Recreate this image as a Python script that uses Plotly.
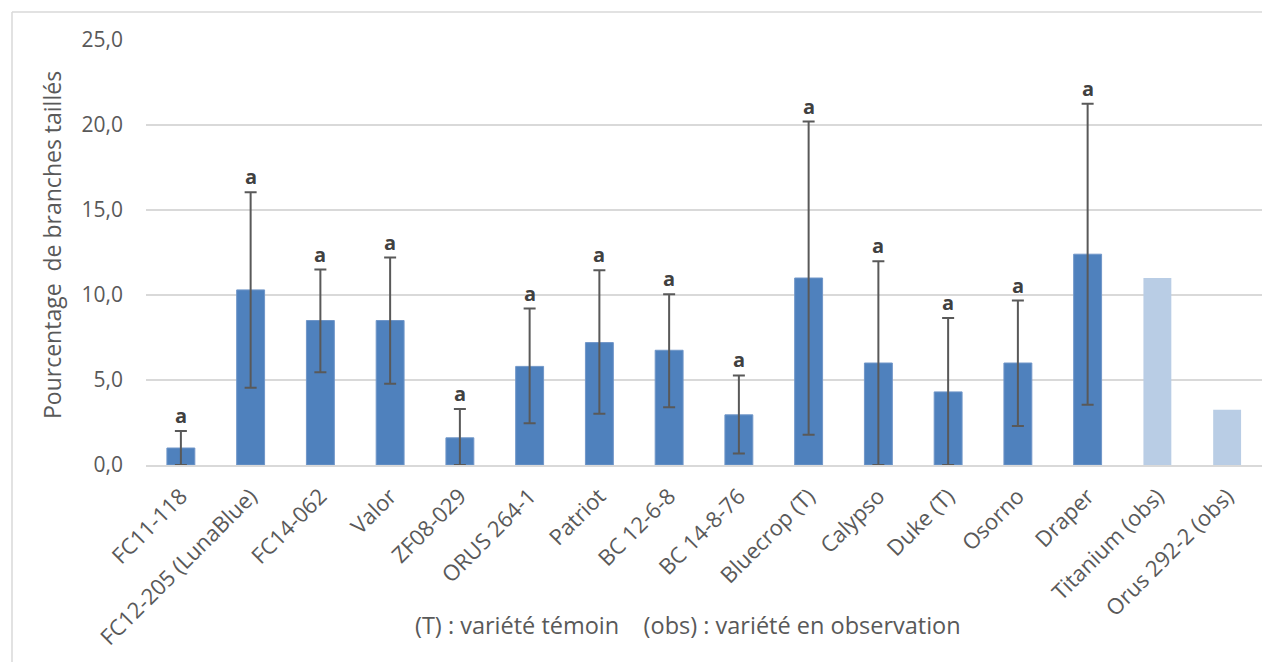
import plotly.graph_objects as go

categories = ["FC11-118", "FC12-205 (LunaBlue)", "FC14-062", "Valor", "ZF08-029",
              "ORUS 264-1", "Patriot", "BC 12-6-8", "BC 14-8-76", "Bluecrop (T)",
              "Calypso", "Duke (T)", "Osorno", "Draper", "Titanium (obs)", "Orus 292-2 (obs)"]

tested = categories[:14]
tested_values = [1.0, 10.3, 8.5, 8.5, 1.6, 5.8, 7.2, 6.75, 2.95, 11.0, 6.0, 4.3, 6.0, 12.4]
err_upper = [2.0, 16.05, 11.5, 12.2, 3.3, 9.2, 11.45, 10.05, 5.27, 20.2, 11.98, 8.65, 9.67, 21.25]
err_lower = [0.0, 4.55, 5.45, 4.78, 0.0, 2.45, 3.02, 3.4, 0.68, 1.78, 0.0, 0.0, 2.3, 3.55]
letters = ["a"] * 14

obs = categories[14:]
obs_values = [11.0, 3.25]

y_ticks = [0, 5, 10, 15, 20, 25]
y_labels = ["0,0", "5,0", "10,0", "15,0", "20,0", "25,0"]

FONT = "Open Sans"
GREY = "#595959"

plus = [u - v for u, v in zip(err_upper, tested_values)]
minus = [v - l for v, l in zip(tested_values, err_lower)]

fig = go.Figure()
fig.add_trace(go.Bar(
    x=tested, y=tested_values,
    marker=dict(color="#4f81bd", line=dict(color="#7096c8", width=1)),
    width=0.4,
    error_y=dict(type="data", symmetric=False, array=plus, arrayminus=minus,
                 color="#595959", thickness=2, width=6),
    showlegend=False, hoverinfo="x+y",
))
fig.add_trace(go.Bar(
    x=obs, y=obs_values,
    marker=dict(color="#b9cde5", line=dict(width=0)),
    width=0.4,
    showlegend=False, hoverinfo="x+y",
))

for c, top, t in zip(tested, err_upper, letters):
    fig.add_annotation(x=c, y=top, text="<b>" + t + "</b>", showarrow=False,
                       yanchor="bottom", yshift=0,
                       font=dict(family=FONT, size=20, color="#404040"))

# page has an 8px body margin
W, H = 1262, 654
L, R, T, B = 138, 8, 32, 197
pw, ph = W - L - R, H - T - B
x_left = (4 - L) / pw
y_top = 1 + (T - 4) / ph
x_right = (W + 10 - L) / pw
y_bot = -(B + 10) / ph
fig.add_shape(type="line", xref="paper", yref="paper", x0=x_left, x1=x_right,
              y0=y_top, y1=y_top, line=dict(color="#d9d9d9", width=1.5))
fig.add_shape(type="line", xref="paper", yref="paper", x0=x_left, x1=x_left,
              y0=y_bot, y1=y_top, line=dict(color="#d9d9d9", width=1.5))

# axis titles placed as annotations
fig.add_annotation(xref="paper", yref="paper",
                   x=(680 - L) / pw, y=-(617 - (T + ph)) / ph,
                   xanchor="center", yanchor="middle", showarrow=False,
                   text="(T) : variété témoin    (obs) : variété en observation",
                   font=dict(family=FONT, size=23.5, color=GREY))
fig.add_annotation(xref="paper", yref="paper",
                   x=(44 - L) / pw, y=((T + ph) - 237) / ph,
                   xanchor="center", yanchor="middle", showarrow=False, textangle=-90,
                   text="Pourcentage  de branches taillés",
                   font=dict(family=FONT, size=23, color=GREY))

fig.update_layout(
    width=W, height=H,
    margin=dict(l=L, r=R, t=T, b=B),
    paper_bgcolor="white", plot_bgcolor="white",
    barmode="overlay",
    font=dict(family=FONT, color=GREY),
    xaxis=dict(categoryorder="array", categoryarray=categories,
               tickangle=-45, tickfont=dict(size=22, color=GREY),
               showgrid=False, showline=True, linecolor="#d9d9d9", linewidth=1.5,
               ticks="", range=[-0.5, 15.5], ticklabelstandoff=8, automargin=False),
    yaxis=dict(range=[0, 25], tickvals=y_ticks, ticktext=y_labels,
               tickfont=dict(size=21, color=GREY), showgrid=True,
               gridcolor="#d9d9d9", gridwidth=1.5, zeroline=False, ticks="",
               ticklabelstandoff=22, automargin=False),
)

fig.write_html("out.html")
